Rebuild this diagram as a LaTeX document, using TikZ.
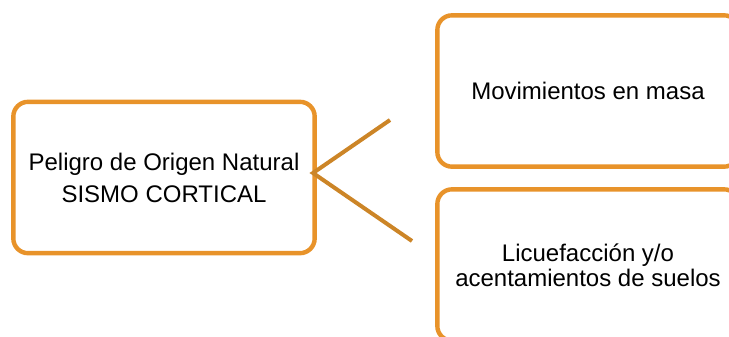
\documentclass[tikz,border=0pt]{standalone}
\usepackage{fontspec}
\setmainfont{Liberation Sans}
\definecolor{naranja}{HTML}{E8932A}
\definecolor{ramaclr}{HTML}{CC8527}

\begin{document}
\begin{tikzpicture}[x=0.75pt, y=-0.75pt,
    caja/.style={rectangle, rounded corners=11pt, draw=naranja, line width=3.3pt, fill=white,
        minimum width=226pt, minimum height=113.5pt, inner sep=0pt, align=center},
    rama/.style={draw=ramaclr, line width=3pt}]
    \useasboundingbox (0,0) rectangle (729,336);
    \clip (0,0) rectangle (729,336);

    \node at (164, 177.5) [caja, font=\fontsize{18}{24}\selectfont] (peligro) {Peligro de Origen Natural\\SISMO CORTICAL};
    \node at (588, 91) [caja, font=\fontsize{18}{19}\selectfont] (movimientos) {Movimientos en masa};
    \node at (588, 265) [caja, font=\fontsize{18}{19}\selectfont] (licuefaccion) {Licuefacción y/o\\acentamientos de suelos};

    \coordinate (vertice) at (313, 173);
    \coordinate (arriba) at (390, 120);
    \coordinate (abajo) at (412, 241);

    \draw[rama] (arriba) -- (vertice) -- (abajo);

\end{tikzpicture}
\end{document}
